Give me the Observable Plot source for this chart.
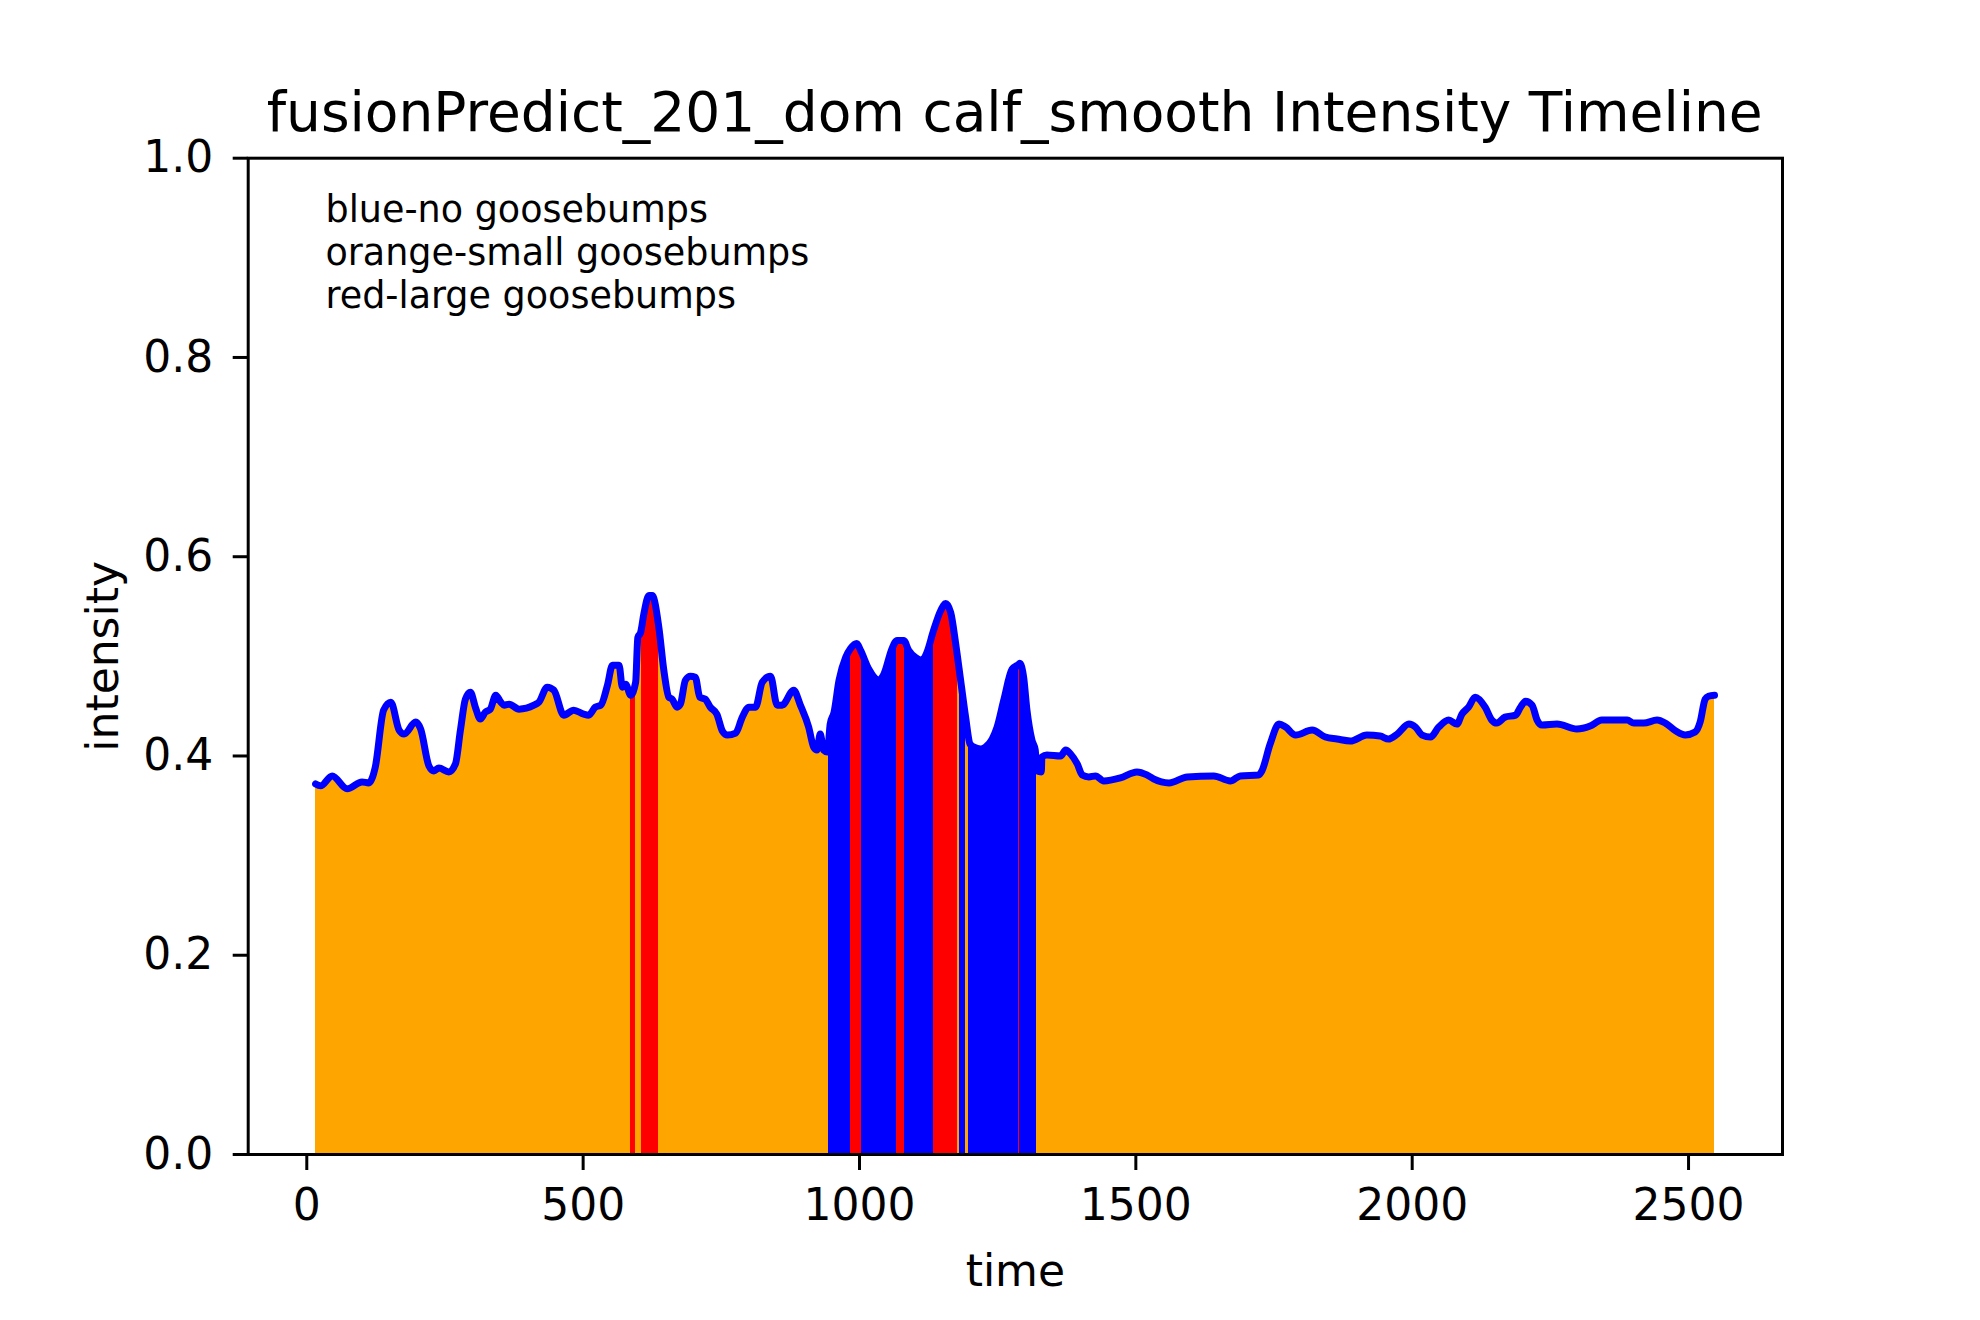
<!DOCTYPE html>
<html>
<head>
<meta charset="utf-8">
<script src="https://cdn.jsdelivr.net/npm/d3@7"></script>
<script src="https://cdn.jsdelivr.net/npm/@observablehq/plot@0.6"></script>
<style>
  body { margin: 0; background: #fff; }
  #wrap { position: relative; width: 1980px; height: 1320px; font-family: "DejaVu Sans", sans-serif; background: #fff; }
  #title { position: absolute; z-index: 2; left: 49.7px; width: 1930px; top: 85.2px; text-align: center; font-size: 55px; line-height: 55px; white-space: nowrap; color: #000; }
  #chart { position: absolute; z-index: 1; left: 0; top: 140px; }
  #chart svg { overflow: visible; }
</style>
</head>
<body>
<div id="wrap">
  <div id="title"></div>
  <div id="chart"></div>
</div>
<script>
const titleText = "fusionPredict_201_dom calf_smooth Intensity Timeline";
const xLabel = "time";
const yLabel = "intensity";
const legendLines = ["blue-no goosebumps", "orange-small goosebumps", "red-large goosebumps"];
const xTicks = [0, 500, 1000, 1500, 2000, 2500];
const yTicks = [0, 0.2, 0.4, 0.6, 0.8, 1.0];

const time = [16,25,46,73,100,112,124,139,152,167,176,197,206,221,230,239,257,269,278,287,296,305,314,323,332,342,351,357,366,384,411,420,435,447,465,483,501,510,522,532,544,553,565,571,577,586,595,599,604,610,619,625,637,646,655,661,670,676,685,694,703,711,721,730,742,752,761,776,788,800,812,824,839,851,860,881,893,908,917,923,929,935,942,947,954,963,975,984,995,1002,1017,1035,1044,1059,1068,1080,1089,1101,1113,1122,1134,1147,1156,1165,1174,1183,1192,1200,1207,1219,1228,1240,1249,1261,1276,1288,1290,1297,1303,1312,1318,1321,1329,1330,1339,1364,1373,1382,1394,1403,1415,1427,1442,1472,1502,1520,1532,1560,1593,1641,1671,1689,1722,1728,1743,1759,1771,1789,1819,1843,1864,1888,1918,1942,1957,1973,1994,2006,2018,2033,2048,2066,2081,2090,2102,2114,2132,2144,2153,2168,2187,2196,2205,2217,2226,2235,2262,2298,2322,2343,2389,2401,2419,2443,2458,2477,2494,2512,2521,2530,2536,2547];
const intensity = [.372,.370,.380,.367,.374,.373,.389,.446,.454,.426,.422,.434,.427,.390,.385,.388,.384,.392,.426,.457,.464,.449,.437,.444,.447,.461,.454,.451,.452,.447,.451,.454,.469,.466,.441,.446,.442,.441,.449,.451,.471,.491,.491,.469,.472,.461,.474,.519,.524,.543,.561,.561,.529,.486,.459,.457,.449,.452,.476,.480,.479,.459,.457,.449,.442,.425,.421,.423,.439,.449,.449,.474,.480,.451,.451,.466,.451,.429,.409,.406,.422,.406,.404,.432,.444,.476,.499,.508,.513,.506,.487,.476,.482,.508,.516,.516,.506,.499,.496,.504,.526,.546,.553,.544,.513,.476,.439,.412,.409,.407,.409,.417,.429,.456,.487,.492,.493,.479,.446,.416,.406,.385,.384,.399,.401,.400,.406,.402,.392,.381,.379,.380,.375,.378,.384,.381,.377,.373,.379,.380,.375,.380,.381,.385,.412,.432,.429,.421,.426,.419,.417,.415,.421,.420,.417,.422,.432,.429,.421,.419,.429,.436,.432,.442,.449,.459,.449,.436,.433,.439,.441,.449,.455,.451,.436,.431,.432,.427,.430,.436,.436,.433,.433,.436,.433,.425,.421,.424,.434,.457,.460,.461];

// class segments (start, end, class)
const segStart = [16, 586, 594.5, 605.5, 637, 944.5, 984, 1003.5, 1067, 1082, 1134, 1178, 1181, 1192, 1198, 1287.5, 1289, 1319.6];
const segEnd   = [586, 594.5, 605.5, 637, 944.5, 984, 1003.5, 1067, 1082, 1134, 1178, 1181, 1192, 1198, 1287.5, 1289, 1319.6, 2547];
const segClass = ["small","large","small","large","small","no","large","no","large","no","large","small","no","small","no","large","no","small"];
const classNames = ["no", "small", "large"];
const classColors = ["#0000ff", "#ffa500", "#ff0000"];

const rows = time.map((t, i) => ({t, v: intensity[i]}));
const segs = segStart.map((s, i) => ({x1: s, x2: segEnd[i], c: segClass[i]}));

const font = "DejaVu Sans";
const chart = Plot.plot({
  width: 1980,
  height: 1180,
  marginTop: 17.7,
  marginBottom: 166,
  marginLeft: 247.7,
  marginRight: 198,
  style: {fontFamily: font, fontSize: "44px", background: "transparent", color: "black"},
  x: {domain: [-106, 2670], label: null},
  y: {domain: [0, 1], label: null},
  color: {domain: classNames, range: classColors},
  marks: [
    Plot.rect(segs, {x1: "x1", x2: "x2", y1: 0, y2: 1, fill: "c", shapeRendering: "crispEdges"}),
    Plot.areaY(rows, {x: "t", y1: "v", y2: 1, curve: "monotone-x", fill: "white", stroke: "white", strokeWidth: 3}),
    Plot.line(rows, {x: "t", y: "v", curve: "monotone-x", stroke: "#0000ff", strokeWidth: 7, strokeLinejoin: "round"}),
    Plot.text([legendLines.join("\n")], {frameAnchor: "top-left", dx: 77.3, dy: 32.8, text: d => d, textAnchor: "start", lineAnchor: "top", lineHeight: 1.178, fontSize: 36.5, fill: "black"}),
    Plot.axisX(xTicks, {tickSize: 16, tickPadding: 18, fontSize: 44, strokeWidth: 3, tickFormat: d => String(d), label: null}),
    Plot.axisY(yTicks, {tickSize: 15, tickPadding: 20, fontSize: 44, strokeWidth: 3, tickFormat: d => d.toFixed(1), label: null}),
    Plot.text([xLabel], {frameAnchor: "bottom", dy: 99.8, lineAnchor: "top", textAnchor: "middle", fontSize: 44, text: d => d, fill: "black"}),
    Plot.text([yLabel], {frameAnchor: "left", dx: -144, rotate: -90, lineAnchor: "middle", textAnchor: "middle", fontSize: 44, text: d => d, fill: "black"}),
    Plot.frame({stroke: "black", strokeWidth: 3})
  ]
});
document.getElementById("title").textContent = titleText;
document.getElementById("chart").appendChild(chart);
</script>
</body>
</html>
